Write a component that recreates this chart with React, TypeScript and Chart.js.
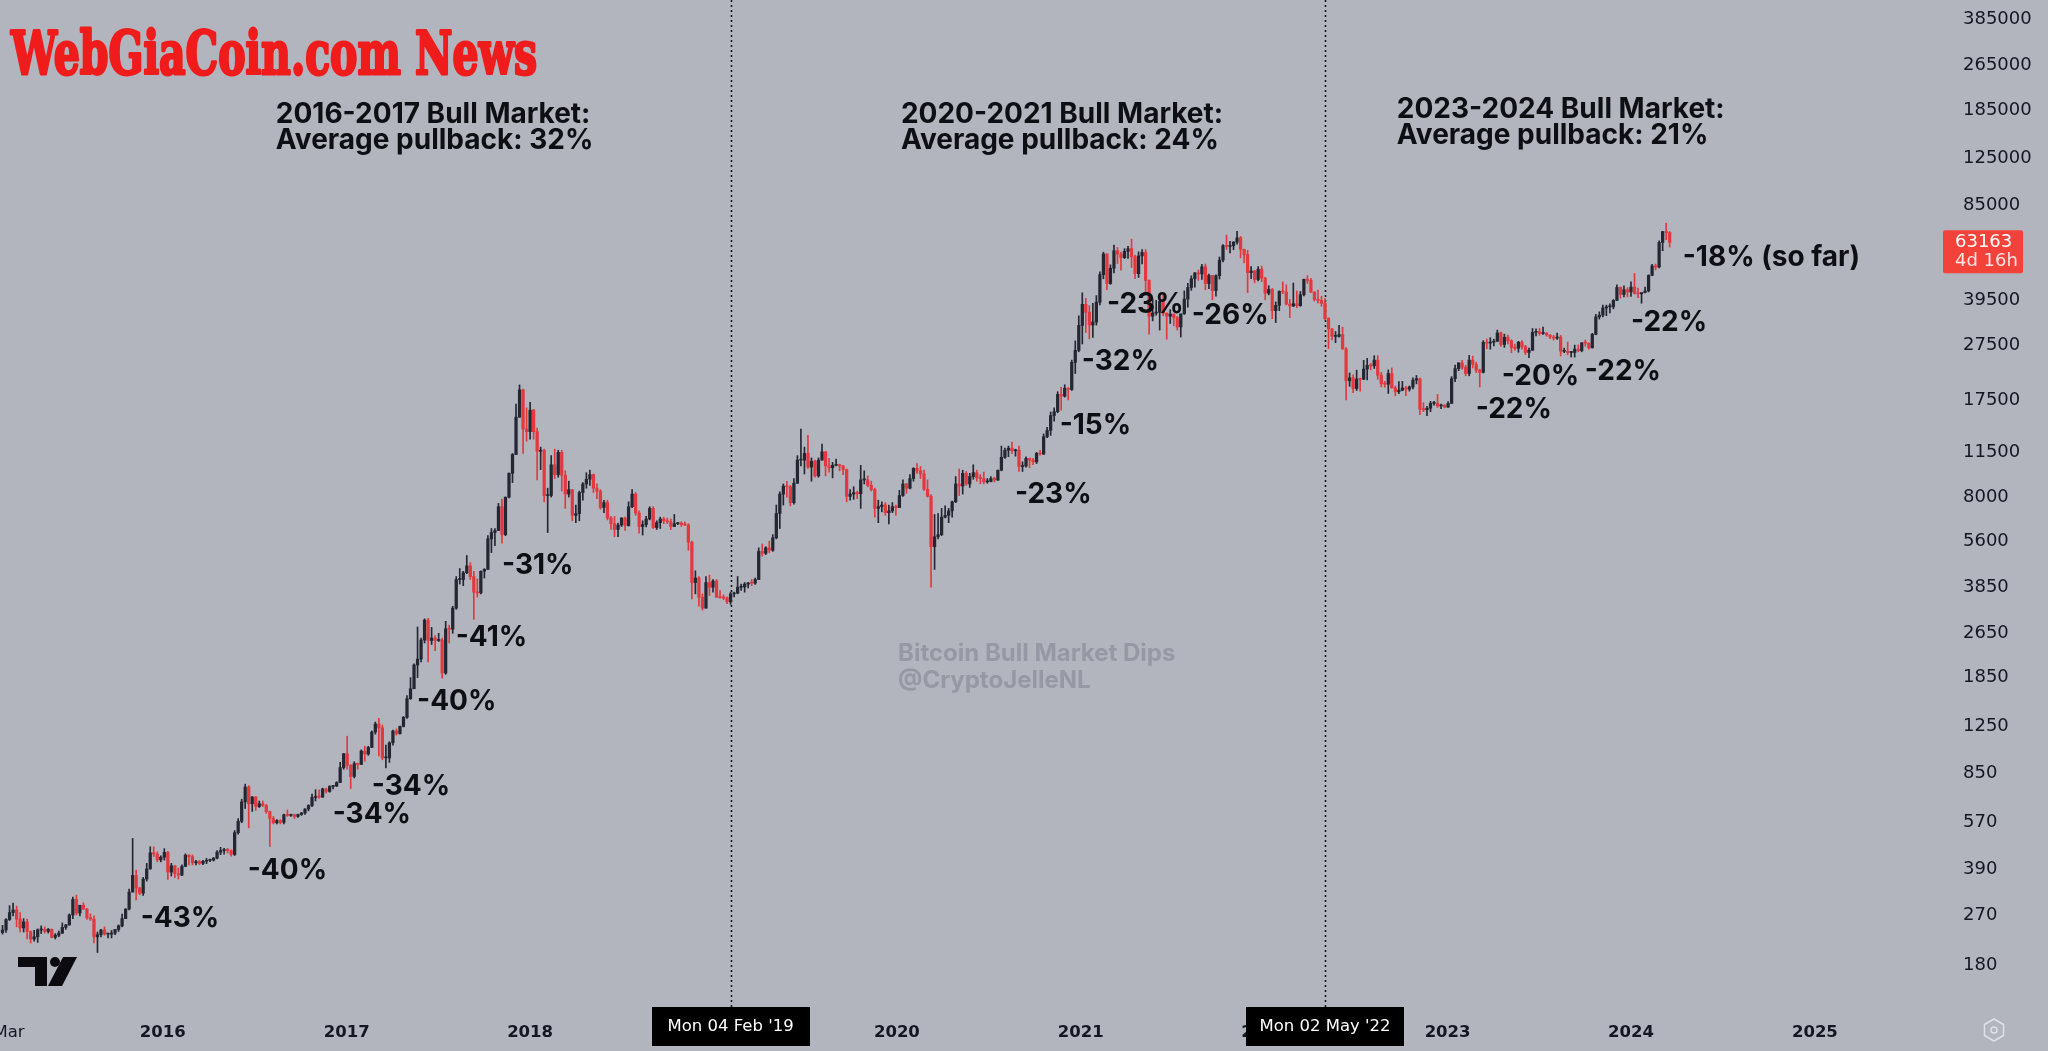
import React, { useEffect, useRef } from 'react';
import { Chart, registerables } from 'chart.js';

Chart.register(...registerables);

// ---------- DATA ----------
// Weekly BTC candles [open, high, low, close]; first candle is the week of START_WEEK.
const START_WEEK = '2015-02-16';

const w2015 = [
  [234,248,231,239],[239,262,234,260],[260,291,258,275],[275,297,268,281],[281,290,245,261],
  [261,275,235,243],[243,262,235,255],[255,261,222,236],[236,237,215,222],[222,238,218,226],
  [226,241,216,239],[239,247,232,240],[240,245,233,236],[236,242,233,240],[240,241,224,225],
  [225,232,222,229],[229,237,226,233],[233,253,232,244],[244,250,240,249],[249,272,248,270],
  [270,312,262,306],[306,317,270,274],[274,282,268,292],[292,298,282,283],[283,285,260,264],
  [264,272,258,261],[261,268,215,226],[226,235,199,230],[230,240,226,239],[239,245,229,231],
  [231,233,224,231],[231,238,224,233],[233,240,230,240],[240,249,236,247],[247,272,245,262],
  [262,284,262,283],[283,333,281,325],[325,502,325,372],[372,388,305,336],[336,338,318,322],
  [322,366,316,361],[361,410,355,392],[392,469,391,447],[447,469,433,442],[442,450,415,422],
  [422,436,415,431],
];
const w2016 = [
  [431,462,421,448],[448,452,360,382],[382,410,370,402],[402,403,365,377],[377,395,361,373],
  [373,405,371,400],[400,443,399,438],[438,440,405,433],[433,439,405,412],[412,420,405,416],
  [416,420,406,410],[410,420,406,417],[417,427,409,420],[420,425,416,421],[421,430,418,428],
  [428,455,425,449],[449,467,440,455],[455,463,442,459],[459,463,446,455],[455,458,435,441],
  [441,535,437,526],[526,590,520,577],[577,690,570,675],[675,780,640,762],[762,770,547,665],
  [665,705,625,703],[703,704,630,650],[650,680,645,665],[665,680,650,655],[655,662,615,624],
  [624,627,470,590],[590,600,565,570],[570,585,565,580],[580,585,565,572],[572,612,565,608],
  [608,632,600,605],[605,612,600,608],[608,612,590,600],[600,612,595,610],[610,620,605,617],
  [617,640,610,637],[637,660,628,655],[655,720,650,700],[700,745,680,705],[705,745,695,702],
  [702,755,700,750],[750,755,725,735],[735,770,730,765],[765,770,750,768],[768,795,765,790],
  [790,930,790,892],[892,1000,880,998],
];
const w2017 = [
  [998,1150,880,908],[908,915,752,830],[830,935,820,921],[921,925,880,915],[915,1030,915,1020],
  [1020,1060,940,996],[996,1060,985,1050],[1050,1200,1050,1190],[1190,1290,1170,1270],[1270,1330,980,1230],
  [1230,1260,950,965],[965,1070,890,965],[965,1100,930,1090],[1090,1210,1070,1200],[1200,1220,1160,1175],
  [1175,1250,1170,1245],[1245,1350,1240,1340],[1340,1600,1330,1560],[1560,1850,1550,1690],[1690,2070,1690,2050],
  [2050,2790,1850,2150],[2150,2550,2100,2510],[2510,2980,2450,2950],[2950,2990,2100,2500],[2500,2780,2420,2550],
  [2550,2600,2300,2500],[2500,2650,2480,2510],[2510,2550,1840,1920],[1920,2920,1900,2750],[2750,2830,2450,2740],
  [2740,3300,2650,3250],[3250,4200,3220,4100],[4100,4480,3950,4100],[4100,4380,3900,4330],[4330,4980,4300,4580],
  [4580,4700,4100,4200],[4200,4380,2970,3700],[3700,4120,3560,3680],[3680,4400,3650,4380],[4380,4480,4150,4450],
  [4450,5850,4450,5700],[5700,6200,5100,6000],[6000,6200,5400,6100],[6100,7600,6100,7400],[7400,7880,5500,5900],
  [5900,8000,5850,8000],[8000,9750,7950,9700],[9700,11400,9000,11300],[11300,17000,11300,15300],[15300,19870,15300,19100],
  [19100,19200,11400,13900],[13900,16500,12600,13600],
];
const w2018 = [
  [13600,17250,12800,16200],[16200,16300,12800,13600],[13600,14000,9200,11600],[11600,12000,10000,11700],[11700,11800,7700,8100],
  [8100,8600,6000,8100],[8100,11200,8000,10400],[10400,11800,9300,9600],[9600,11700,9400,11500],[11500,11700,8400,9550],
  [9550,9900,7300,8200],[8200,9100,8000,8500],[8500,8500,6600,6900],[6900,7500,6500,7000],[7000,8400,6600,8300],
  [8300,9000,7800,8900],[8900,9750,8600,9250],[9250,9950,8800,9600],[9600,9650,8300,8600],[8600,8900,7900,8400],
  [8400,8500,7250,7350],[7350,7800,7050,7650],[7650,7800,6650,6750],[6750,6850,6150,6450],[6450,6840,5800,6150],
  [6150,6480,5800,6380],[6380,6770,6300,6750],[6750,6800,6100,6350],[6350,7700,6320,7400],[7400,8500,7350,8200],
  [8200,8300,6900,7030],[7030,7150,5970,6300],[6300,6600,5880,6400],[6400,6850,6280,6700],[6700,7400,6650,7300],
  [7300,7400,6200,6250],[6250,6600,6150,6500],[6500,6800,6200,6700],[6700,6800,6450,6600],[6600,6750,6450,6550],
  [6550,6700,6150,6300],[6300,6950,6300,6450],[6450,6520,6400,6480],[6480,6550,6300,6400],[6400,6550,6350,6380],
  [6380,6450,5200,5550],[5550,5600,3500,4000],[4000,4400,3650,4150],[4150,4200,3300,3550],[3550,3650,3200,3250],
  [3250,4200,3250,4000],[4000,4250,3600,3850],[3850,4100,3700,4050],
];
const w2019 = [
  [4050,4100,3550,3550],[3550,3750,3520,3540],[3540,3620,3480,3530],[3530,3560,3370,3420],[3420,3700,3350,3650],
  [3650,3700,3560,3670],[3670,4200,3650,3850],[3850,3950,3750,3860],[3860,4000,3700,3950],[3950,4000,3830,3990],
  [3990,4100,3900,3980],[3980,4150,3940,4100],[4100,5300,4100,5150],[5150,5470,4950,5070],[5070,5350,5020,5300],
  [5300,5600,5100,5200],[5200,5900,5150,5750],[5750,7500,5700,7000],[7000,8350,6200,8200],[8200,8900,7500,8750],
  [8750,9100,8000,8700],[8700,8800,7450,7650],[7650,9300,7550,8950],[8950,11200,8950,10800],[10800,13880,10300,10800],
  [10800,12000,9650,11400],[11400,13200,10100,10200],[10200,11000,9100,10700],[10700,10800,9400,9500],[9500,11000,9400,10800],
  [10800,12300,10800,11550],[11550,11600,9500,10300],[10300,10950,9800,10150],[10150,10600,9350,10350],[10350,10900,10300,10400],
  [10400,10450,9900,10300],[10300,10350,9600,10000],[10000,10050,7700,8050],[8050,8500,7800,8200],[8200,8700,7850,8300],
  [8300,8400,7900,8220],[8220,10350,7300,9200],[9200,9900,8900,9200],[9200,9500,8700,8800],[8800,9100,8400,8500],
  [8500,8600,6800,7300],[7300,7800,6500,7400],[7400,7700,7100,7500],[7500,7650,6900,7050],[7050,7500,6430,7150],
  [7150,7650,7050,7400],[7400,7500,6900,7350],
];
const w2020 = [
  [7350,8450,7350,8100],[8100,9200,8050,8900],[8900,8950,8250,8600],[8600,9600,8550,9300],[9300,10150,9100,10100],
  [10100,10500,9700,9900],[9900,10250,9300,9650],[9650,9950,8450,8530],[8530,9200,8000,8050],[8050,8170,3850,5350],
  [5350,6950,4450,5800],[5800,7000,5700,5900],[5900,7300,5850,6800],[6800,7450,6750,6900],[6900,7300,6500,7150],
  [7150,7750,6800,7700],[7700,9450,7650,8900],[8900,10050,8100,8750],[8750,9950,8200,9700],[9700,9850,8800,8900],
  [8900,9700,8650,9450],[9450,10400,9250,9750],[9750,9950,9100,9350],[9350,9600,8900,9300],[9300,9800,8900,9050],
  [9050,9300,8950,9080],[9080,9450,9050,9300],[9300,9400,9050,9180],[9180,9950,9150,9950],[9950,12100,9900,11050],
  [11050,11900,10950,11700],[11700,12100,11100,11900],[11900,12500,11400,11650],[11650,11800,11150,11700],[11700,12100,9850,10250],
  [10250,10650,9850,10300],[10300,11100,10200,10950],[10950,10990,10150,10800],[10800,10950,10400,10650],[10650,11500,10500,11400],
  [11400,11700,11250,11350],[11350,13350,11300,13050],[13050,14100,12950,13750],[13750,15950,13200,15500],[15500,16500,14800,16000],
  [16000,18800,15850,18400],[18400,19500,16200,18150],[18150,19900,18000,19350],[19350,19450,17600,19150],[19150,24300,19000,23850],
  [23850,28400,21800,26300],[26300,34800,26000,32200],
];
const w2021 = [
  [32200,41950,27700,38200],[38200,40100,30400,35800],[35800,37800,28850,32300],[32300,38500,29200,33100],[33100,41000,32300,38900],
  [38900,49700,38000,48600],[48600,58350,47000,57500],[57500,57500,43000,45200],[45200,52650,44950,51200],[51200,61800,49300,59000],
  [59000,60600,53200,57400],[57400,58400,50400,55800],[55800,60000,55400,58700],[58700,61200,55500,60000],[60000,64850,51500,56200],
  [56200,57000,47000,49000],[49000,58500,47500,56600],[56600,59600,53000,58200],[58200,59600,42000,46400],[46400,46600,30000,34700],
  [34700,40000,33400,35600],[35600,39500,35000,35800],[35800,39400,31000,39100],[39100,41300,34800,35500],[35500,35700,28800,34700],
  [34700,36600,32700,35300],[35300,35300,32100,34300],[34300,34700,31000,31800],[31800,35000,29300,35400],[35400,42600,35200,39850],
  [39850,45300,37300,43800],[43800,48150,42800,47000],[47000,49400,43950,49300],[49300,50500,46400,48900],[48900,52900,46800,51800],
  [51800,52950,43000,45200],[45200,48850,43400,48300],[48300,48300,39650,42700],[42700,48500,40800,48200],[48200,56100,46900,54700],
  [54700,62000,53900,61500],[61500,67000,59600,61100],[61100,63700,58000,61500],[61500,63500,59500,63300],[63300,69000,62300,65500],
  [65500,66300,55700,59700],[59700,59800,53500,57200],[57200,59200,42000,49400],[49400,51900,47000,50100],[50100,50300,45500,46700],
  [46700,51900,46200,50800],[50800,52100,45900,47300],
];
const w2022 = [
  [47300,47550,39650,41800],[41800,44450,41250,43100],[43100,43500,34000,36300],[36300,38950,32950,37900],[37900,42650,36300,42400],
  [42400,45850,41650,42200],[42200,44750,38000,38300],[38300,39800,34300,37700],[37700,45400,37500,38400],[38400,42600,37150,37800],
  [37800,42400,37600,41300],[41300,46900,40900,46800],[46800,48200,45250,46400],[46400,47200,42100,42150],[42150,42400,39200,39700],
  [39700,42900,38600,39450],[39450,40800,37600,38500],[38500,40000,33700,34050],[34050,34300,26700,31300],[31300,31400,28650,29450],
  [29450,30650,28000,29450],[29450,32200,29300,29900],[29900,31750,26550,26600],[26600,26900,17600,20550],[20550,21900,19650,21050],
  [21050,21550,18650,19300],[19300,22400,19000,20850],[20850,21000,18900,20800],[20800,24250,20750,22600],[22600,24650,20700,23300],
  [23300,23650,22450,23200],[23200,25200,22700,24300],[24300,25200,20800,21500],[21500,22000,19550,20050],[20050,20450,19500,19990],
  [19990,22450,18550,21800],[21800,22800,19350,19400],[19400,19700,18200,18800],[18800,20400,18500,19050],[19050,20450,18950,19400],
  [19400,19650,18200,19200],[19200,19700,18900,19550],[19550,21050,19250,20650],[20650,21450,20050,20900],[20900,21000,15600,16300],
  [16300,17200,16000,16250],[16250,16700,15500,16450],[16450,17400,16000,17100],[17100,17400,16850,17100],[17100,18400,16550,16750],
  [16750,17000,16400,16850],[16850,16950,16500,16600],
];
const w2023 = [
  [16600,17350,16550,17100],[17100,21250,17100,20900],[20900,23350,20400,22700],[22700,23800,22300,23750],[23750,24250,22600,22950],
  [22950,23300,21400,21800],[21800,25250,21400,24300],[24300,25100,22800,23500],[23500,23900,21950,22400],[22400,22600,19550,22000],
  [22000,28450,21900,28050],[28050,28850,26650,27900],[27900,29150,26550,28100],[28100,28800,27250,28350],[28350,31000,28200,30300],
  [30300,30500,27150,27600],[27600,30000,26950,29250],[29250,29800,27700,28450],[28450,28650,25800,26900],[26900,27650,26350,26750],
  [26750,28300,25900,28100],[28100,28450,26550,27100],[27100,27400,25400,25850],[25850,26800,24800,26350],[26350,31400,26250,30450],
  [30450,31300,29550,30600],[30600,31400,29750,30150],[30150,31800,29950,30250],[30250,30400,29500,29800],[29800,29850,28900,29300],
  [29300,29700,28600,29050],[29050,30250,28750,29300],[29300,29700,25150,26100],[26100,26800,25800,26100],[26100,28150,25350,25850],
  [25850,26100,24900,25850],[25850,27450,24900,26550],[26550,27500,26000,26250],[26250,28000,26000,27950],[27950,28600,27200,27900],
  [27900,27950,26550,26850],[26850,30200,26800,29950],[29950,35200,29850,34500],[34500,35950,33900,35000],[35000,38000,34500,37100],
  [37100,37950,34850,37450],[37450,38400,35650,37450],[37450,39700,36850,39450],[39450,44750,39350,43800],[43800,44000,40200,41400],
  [41400,44400,40550,43000],[43000,43700,40600,42250],
];
const w2024 = [
  [42250,45900,40750,43950],[43950,49050,41500,41750],[41750,43550,40300,41600],[41600,41850,38550,42050],[42050,43900,41900,42600],
  [42600,48550,42250,48300],[48300,52850,48200,52150],[52150,52950,50550,51700],[51700,64000,51350,63100],[63100,69000,59000,68950],
  [68950,73800,64600,68400],[68400,68950,60800,63163],
];

const yTickValues = [385000, 265000, 185000, 125000, 85000, 39500, 27500, 17500, 11500, 8000, 5600, 3850, 2650, 1850, 1250, 850, 570, 390, 270, 180];
const xTickDates = ['2015-03-01','2016-01-01','2017-01-01','2018-01-01','2019-01-01','2020-01-01','2021-01-01','2022-01-01','2023-01-01','2024-01-01','2025-01-01'];
const xTickLabels = ['Mar','2016','2017','2018','2019','2020','2021','2022','2023','2024','2025'];

const dipLabels = ['-43%','-40%','-34%','-34%','-40%','-41%','-31%','-23%','-15%','-32%','-23%','-26%','-22%','-20%','-22%','-22%','-18% (so far)'];
const dipDates = ['2015-11-18','2016-06-18','2016-12-04','2017-02-20','2017-05-21','2017-08-06','2017-11-06','2020-08-23','2020-11-20','2021-01-03','2021-02-22','2021-08-10','2023-02-26','2023-04-19','2023-10-01','2024-01-01','2024-04-13'];
const dipPrices = [261,386,608,762,1519,2553,4578,8143,14250,23950,38030,34780,16230,21200,22090,32850,55680];

const cycleTitles = ['2016-2017 Bull Market:', '2020-2021 Bull Market:', '2023-2024 Bull Market:'];
const cycleAverages = ['Average pullback: 32%', 'Average pullback: 24%', 'Average pullback: 21%'];
const cycleDates = ['2016-08-13', '2020-01-09', '2022-09-22'];
const cyclePrices = [177500, 177500, 184900];

const markerDates = ['2019-02-04', '2022-05-02'];
const markerLabels = ["Mon 04 Feb '19", "Mon 02 May '22"];

const lastPrice = 63163;
const countdown = '4d 16h';
const titleText = 'WebGiaCoin.com News';
const watermarkLines = ['Bitcoin Bull Market Dips', '@CryptoJelleNL'];

const X_MIN_DATE = '2015-02-11';
const X_MAX_DATE = '2025-09-07';
const Y_MIN = 130;
const Y_MAX = 451000;

// ---------- STYLE ----------
const BG = '#b2b5be';
const UP = '#242731';
const DOWN = '#e3383e';
const TEXT = '#131722';

const toDay = (s: string) =>
  Date.UTC(+s.slice(0, 4), +s.slice(5, 7) - 1, +s.slice(8, 10)) / 86400000;

const candles = [...w2015, ...w2016, ...w2017, ...w2018, ...w2019, ...w2020, ...w2021, ...w2022, ...w2023, ...w2024];
const start = toDay(START_WEEK);

const overlayPlugin = {
  id: 'overlay',
  beforeDraw(chart: any) {
    const { ctx, width, height } = chart;
    ctx.save();
    ctx.fillStyle = BG;
    ctx.fillRect(0, 0, width, height);
    ctx.restore();
  },
  beforeDatasetsDraw(chart: any) {
    const { ctx, chartArea, scales } = chart;
    ctx.save();
    // watermark
    ctx.fillStyle = '#9699a3';
    ctx.font = '700 24px Inter, "Noto Sans", sans-serif';
    ctx.textBaseline = 'middle';
    ctx.textAlign = 'left';
    ctx.fillText(watermarkLines[0], 898, 654);
    ctx.fillText(watermarkLines[1], 898, 681);
    // dotted marker lines
    ctx.strokeStyle = '#111';
    ctx.lineWidth = 1.5;
    ctx.setLineDash([2, 3]);
    markerDates.forEach((d) => {
      const x = Math.round(scales.x.getPixelForValue(toDay(d))) + 0.5;
      ctx.beginPath();
      ctx.moveTo(x, chartArea.top);
      ctx.lineTo(x, chartArea.bottom + 3);
      ctx.stroke();
    });
    ctx.restore();
  },
  afterDatasetsDraw(chart: any) {
    const { ctx, scales } = chart;
    ctx.save();
    ctx.fillStyle = '#0e0f14';
    ctx.textBaseline = 'middle';
    ctx.textAlign = 'left';
    ctx.font = '700 28px Inter, "Noto Sans", sans-serif';
    dipLabels.forEach((t, i) => {
      const x = scales.x.getPixelForValue(toDay(dipDates[i]));
      const y = scales.y.getPixelForValue(dipPrices[i]);
      ctx.fillText(t, x, y);
    });
    ctx.font = '700 28px Inter, "Noto Sans", sans-serif';
    cycleTitles.forEach((t, i) => {
      const x = scales.x.getPixelForValue(toDay(cycleDates[i]));
      const y = scales.y.getPixelForValue(cyclePrices[i]);
      ctx.fillText(t, x, y);
      ctx.fillText(cycleAverages[i], x, y + 26);
    });
    ctx.restore();
  },
  afterDraw(chart: any) {
    const { ctx, chartArea, scales } = chart;
    ctx.save();
    // title (heavy slab look: fill + same-colour stroke)
    ctx.fillStyle = '#f01c1c';
    ctx.strokeStyle = '#f01c1c';
    ctx.lineWidth = 3;
    ctx.lineJoin = 'round';
    ctx.font = 'bold 60px "DejaVu Serif", serif';
    ctx.textBaseline = 'alphabetic';
    ctx.textAlign = 'left';
    ctx.strokeText(titleText, 11, 74, 526);
    ctx.fillText(titleText, 11, 74, 526);

    // marker tags on the time axis
    ctx.font = '16.5px "DejaVu Sans", sans-serif';
    ctx.textAlign = 'center';
    ctx.textBaseline = 'middle';
    markerDates.forEach((d, i) => {
      const x = scales.x.getPixelForValue(toDay(d));
      ctx.fillStyle = '#000';
      ctx.fillRect(Math.round(x - 79), chartArea.bottom + 2, 158, 39);
      ctx.fillStyle = '#fff';
      ctx.fillText(markerLabels[i], x, chartArea.bottom + 22);
    });

    // last price tag
    const py = scales.y.getPixelForValue(lastPrice);
    ctx.fillStyle = '#f3423a';
    ctx.beginPath();
    (ctx as any).roundRect(chartArea.right + 3, py - 12, 80, 43, 2);
    ctx.fill();
    ctx.textAlign = 'left';
    ctx.font = '18px "DejaVu Sans", sans-serif';
    ctx.fillStyle = '#fff';
    ctx.fillText(String(lastPrice), chartArea.right + 15, py);
    ctx.fillStyle = 'rgba(255,255,255,0.85)';
    ctx.fillText(countdown, chartArea.right + 15, py + 19);

    // TradingView logo
    ctx.fillStyle = '#0b0b0f';
    ctx.fillRect(18, 957, 29, 10);
    ctx.fillRect(35, 957, 12, 29);
    ctx.beginPath();
    ctx.arc(55, 962, 5, 0, Math.PI * 2);
    ctx.fill();
    ctx.beginPath();
    ctx.moveTo(63, 957);
    ctx.lineTo(77, 957);
    ctx.lineTo(62, 986);
    ctx.lineTo(48, 986);
    ctx.closePath();
    ctx.fill();

    // settings hexagon icon
    ctx.strokeStyle = '#dfe1e8';
    ctx.lineWidth = 1.5;
    ctx.beginPath();
    for (let k = 0; k < 6; k++) {
      const a = Math.PI / 6 + (k * Math.PI) / 3;
      const hx = 1994 + 11 * Math.cos(a);
      const hy = 1030 + 11 * Math.sin(a);
      if (k === 0) ctx.moveTo(hx, hy); else ctx.lineTo(hx, hy);
    }
    ctx.closePath();
    ctx.stroke();
    ctx.beginPath();
    ctx.arc(1994, 1030, 3, 0, Math.PI * 2);
    ctx.stroke();
    ctx.restore();
  },
};

export default function App() {
  const ref = useRef<HTMLCanvasElement>(null);

  useEffect(() => {
    document.body.style.margin = '0';
    const colors = candles.map((c) => (c[3] >= c[0] ? UP : DOWN));
    const bodies = candles.map((c, i) => ({ x: start + 7 * i, y: [c[0], c[3]] }));
    const wicks = candles.map((c, i) => ({ x: start + 7 * i, y: [c[2], c[1]] }));

    const chart = new Chart(ref.current as HTMLCanvasElement, {
      type: 'bar',
      data: {
        datasets: [
          { label: 'body', data: bodies as any, backgroundColor: colors, barThickness: 2.6, grouped: false, minBarLength: 1, borderWidth: 0 } as any,
          { label: 'wick', data: wicks as any, backgroundColor: colors, barThickness: 1, grouped: false, borderWidth: 0 } as any,
        ],
      },
      options: {
        animation: false,
        responsive: false,
        devicePixelRatio: 1,
        events: [],
        layout: { padding: 0 },
        plugins: { legend: { display: false }, tooltip: { enabled: false } },
        scales: {
          x: {
            type: 'linear',
            min: toDay(X_MIN_DATE),
            max: toDay(X_MAX_DATE),
            bounds: 'data',
            offset: false,
            grid: { display: false },
            border: { display: false },
            afterBuildTicks: (s: any) => {
              s.ticks = xTickDates.map((d) => ({ value: toDay(d) }));
            },
            afterFit: (s: any) => {
              s.height = 46;
              s.paddingLeft = 0;
              s.paddingRight = 0;
            },
            ticks: {
              autoSkip: false,
              maxRotation: 0,
              minRotation: 0,
              padding: 10,
              color: TEXT,
              font: (c: any) => ({ family: 'DejaVu Sans', size: 16.5, weight: c.index === 0 ? 'normal' : 'bold' }),
              callback: (_v: any, i: number) => xTickLabels[i],
            },
          } as any,
          y: {
            type: 'logarithmic',
            position: 'right',
            min: Y_MIN,
            max: Y_MAX,
            bounds: 'data',
            grid: { display: false },
            border: { display: false },
            afterBuildTicks: (s: any) => {
              s.ticks = yTickValues.map((v) => ({ value: v }));
            },
            afterFit: (s: any) => {
              s.width = 108;
              s.paddingTop = 0;
              s.paddingBottom = 0;
            },
            ticks: {
              autoSkip: false,
              padding: 15,
              color: TEXT,
              font: { family: 'DejaVu Sans', size: 18 },
              callback: (v: any) => String(v),
            },
          } as any,
        },
      },
      plugins: [overlayPlugin],
    });
    return () => chart.destroy();
  }, []);

  return (
    <div style={{ position: 'fixed', left: 0, top: 0, width: 2048, height: 1051, background: BG }}>
      <canvas ref={ref} width={2048} height={1051} style={{ display: 'block', width: 2048, height: 1051 }} />
    </div>
  );
}
